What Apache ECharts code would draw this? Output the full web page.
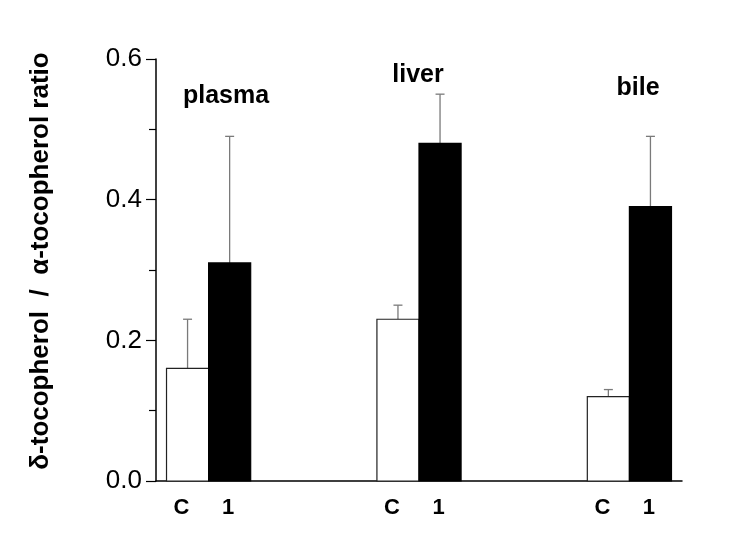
<!DOCTYPE html>
<html>
<head>
<meta charset="utf-8">
<script src="https://cdn.jsdelivr.net/npm/echarts@6/dist/echarts.min.js"></script>
<style>html,body{margin:0;padding:0;background:#fff;}#c{width:750px;height:551px;}</style>
</head>
<body>
<div id="c"></div>
<script>
// ---- data ----
const groups = ['plasma', 'liver', 'bile'];
const seriesNames = ['C', '1'];
const controlValues = [0.16, 0.23, 0.12];
const controlUpper = [0.23, 0.25, 0.13];   // top of error bar
const treatedValues = [0.31, 0.48, 0.39];
const treatedUpper = [0.49, 0.55, 0.49];   // top of error bar
const yTicks = [0.0, 0.2, 0.4, 0.6];
const yTitle = 'δ-tocopherol  /  α-tocopherol ratio';

// ---- build ----
const rows = [];
groups.forEach((g, i) => {
  const pos = 1 + 4 * i;
  rows.push([pos, controlValues[i], controlUpper[i], 0]);
  rows.push([pos, treatedValues[i], treatedUpper[i], 1]);
});

const chart = echarts.init(document.getElementById('c'), null, {renderer: 'canvas'});
const FONT = 'Liberation Sans, Arial, Helvetica, sans-serif';

chart.setOption({
  backgroundColor: '#fff',
  animation: false,
  grid: {left: 156, right: 68, top: 59, bottom: 70},
  xAxis: {
    type: 'value', min: 0, max: 10,
    axisLine: {show: true, lineStyle: {color: '#000', width: 1.5}},
    axisTick: {show: false}, axisLabel: {show: false}, splitLine: {show: false}
  },
  yAxis: {
    type: 'value', min: yTicks[0], max: yTicks[yTicks.length - 1], interval: 0.2,
    name: yTitle, nameLocation: 'middle', nameGap: 102,
    nameTextStyle: {fontFamily: FONT, fontWeight: 'bold', fontSize: 26, color: '#000', padding: [0, 0, 0, 18]},
    axisLine: {show: true, lineStyle: {color: '#000', width: 1.5}},
    axisTick: {show: true, length: 10, lineStyle: {color: '#000', width: 1.2}},
    minorTick: {show: true, splitNumber: 2, length: 7, lineStyle: {color: '#000', width: 1.2}},
    axisLabel: {margin: 14, fontFamily: FONT, fontSize: 26, color: '#000',
      formatter: v => v.toFixed(1)},
    splitLine: {show: false}
  },
  series: [{
    type: 'custom',
    data: rows,
    renderItem: function (params, api) {
      const x = api.value(0), v = api.value(1), up = api.value(2), s = api.value(3);
      const base = api.coord([x, 0]);
      const top = api.coord([x, v]);
      const et = api.coord([x, up]);
      const bw = api.size([0.8, 0])[0];
      const left = s === 0 ? base[0] - bw : base[0];
      const cx = left + bw / 2;
      const children = [];
      children.push({
        type: 'line', shape: {x1: cx, y1: top[1], x2: cx, y2: et[1]},
        style: {stroke: '#7a7a7a', lineWidth: 1.3}
      });
      children.push({
        type: 'line', shape: {x1: cx - 4.5, y1: et[1], x2: cx + 4.5, y2: et[1]},
        style: {stroke: '#7a7a7a', lineWidth: 1.3}
      });
      children.push({
        type: 'rect', shape: {x: left, y: top[1], width: bw, height: base[1] - top[1]},
        style: {fill: s === 1 ? '#000' : '#fff', stroke: s === 1 ? '#000' : '#222', lineWidth: 1.2}
      });
      children.push({
        type: 'text',
        style: {
          x: cx + (s === 0 ? -6 : -1.5), y: base[1] + 27,
          text: seriesNames[s], fill: '#000',
          font: 'bold 22px ' + FONT, align: 'center', verticalAlign: 'middle'
        }
      });
      return {type: 'group', children: children};
    }
  }],
  graphic: [
    {type: 'text', x: 226, y: 96, style: {text: groups[0], font: 'bold 25px ' + FONT, fill: '#000', align: 'center', verticalAlign: 'middle'}},
    {type: 'text', x: 418, y: 75, style: {text: groups[1], font: 'bold 25px ' + FONT, fill: '#000', align: 'center', verticalAlign: 'middle'}},
    {type: 'text', x: 638, y: 88, style: {text: groups[2], font: 'bold 25px ' + FONT, fill: '#000', align: 'center', verticalAlign: 'middle'}}
  ]
});
</script>
</body>
</html>
